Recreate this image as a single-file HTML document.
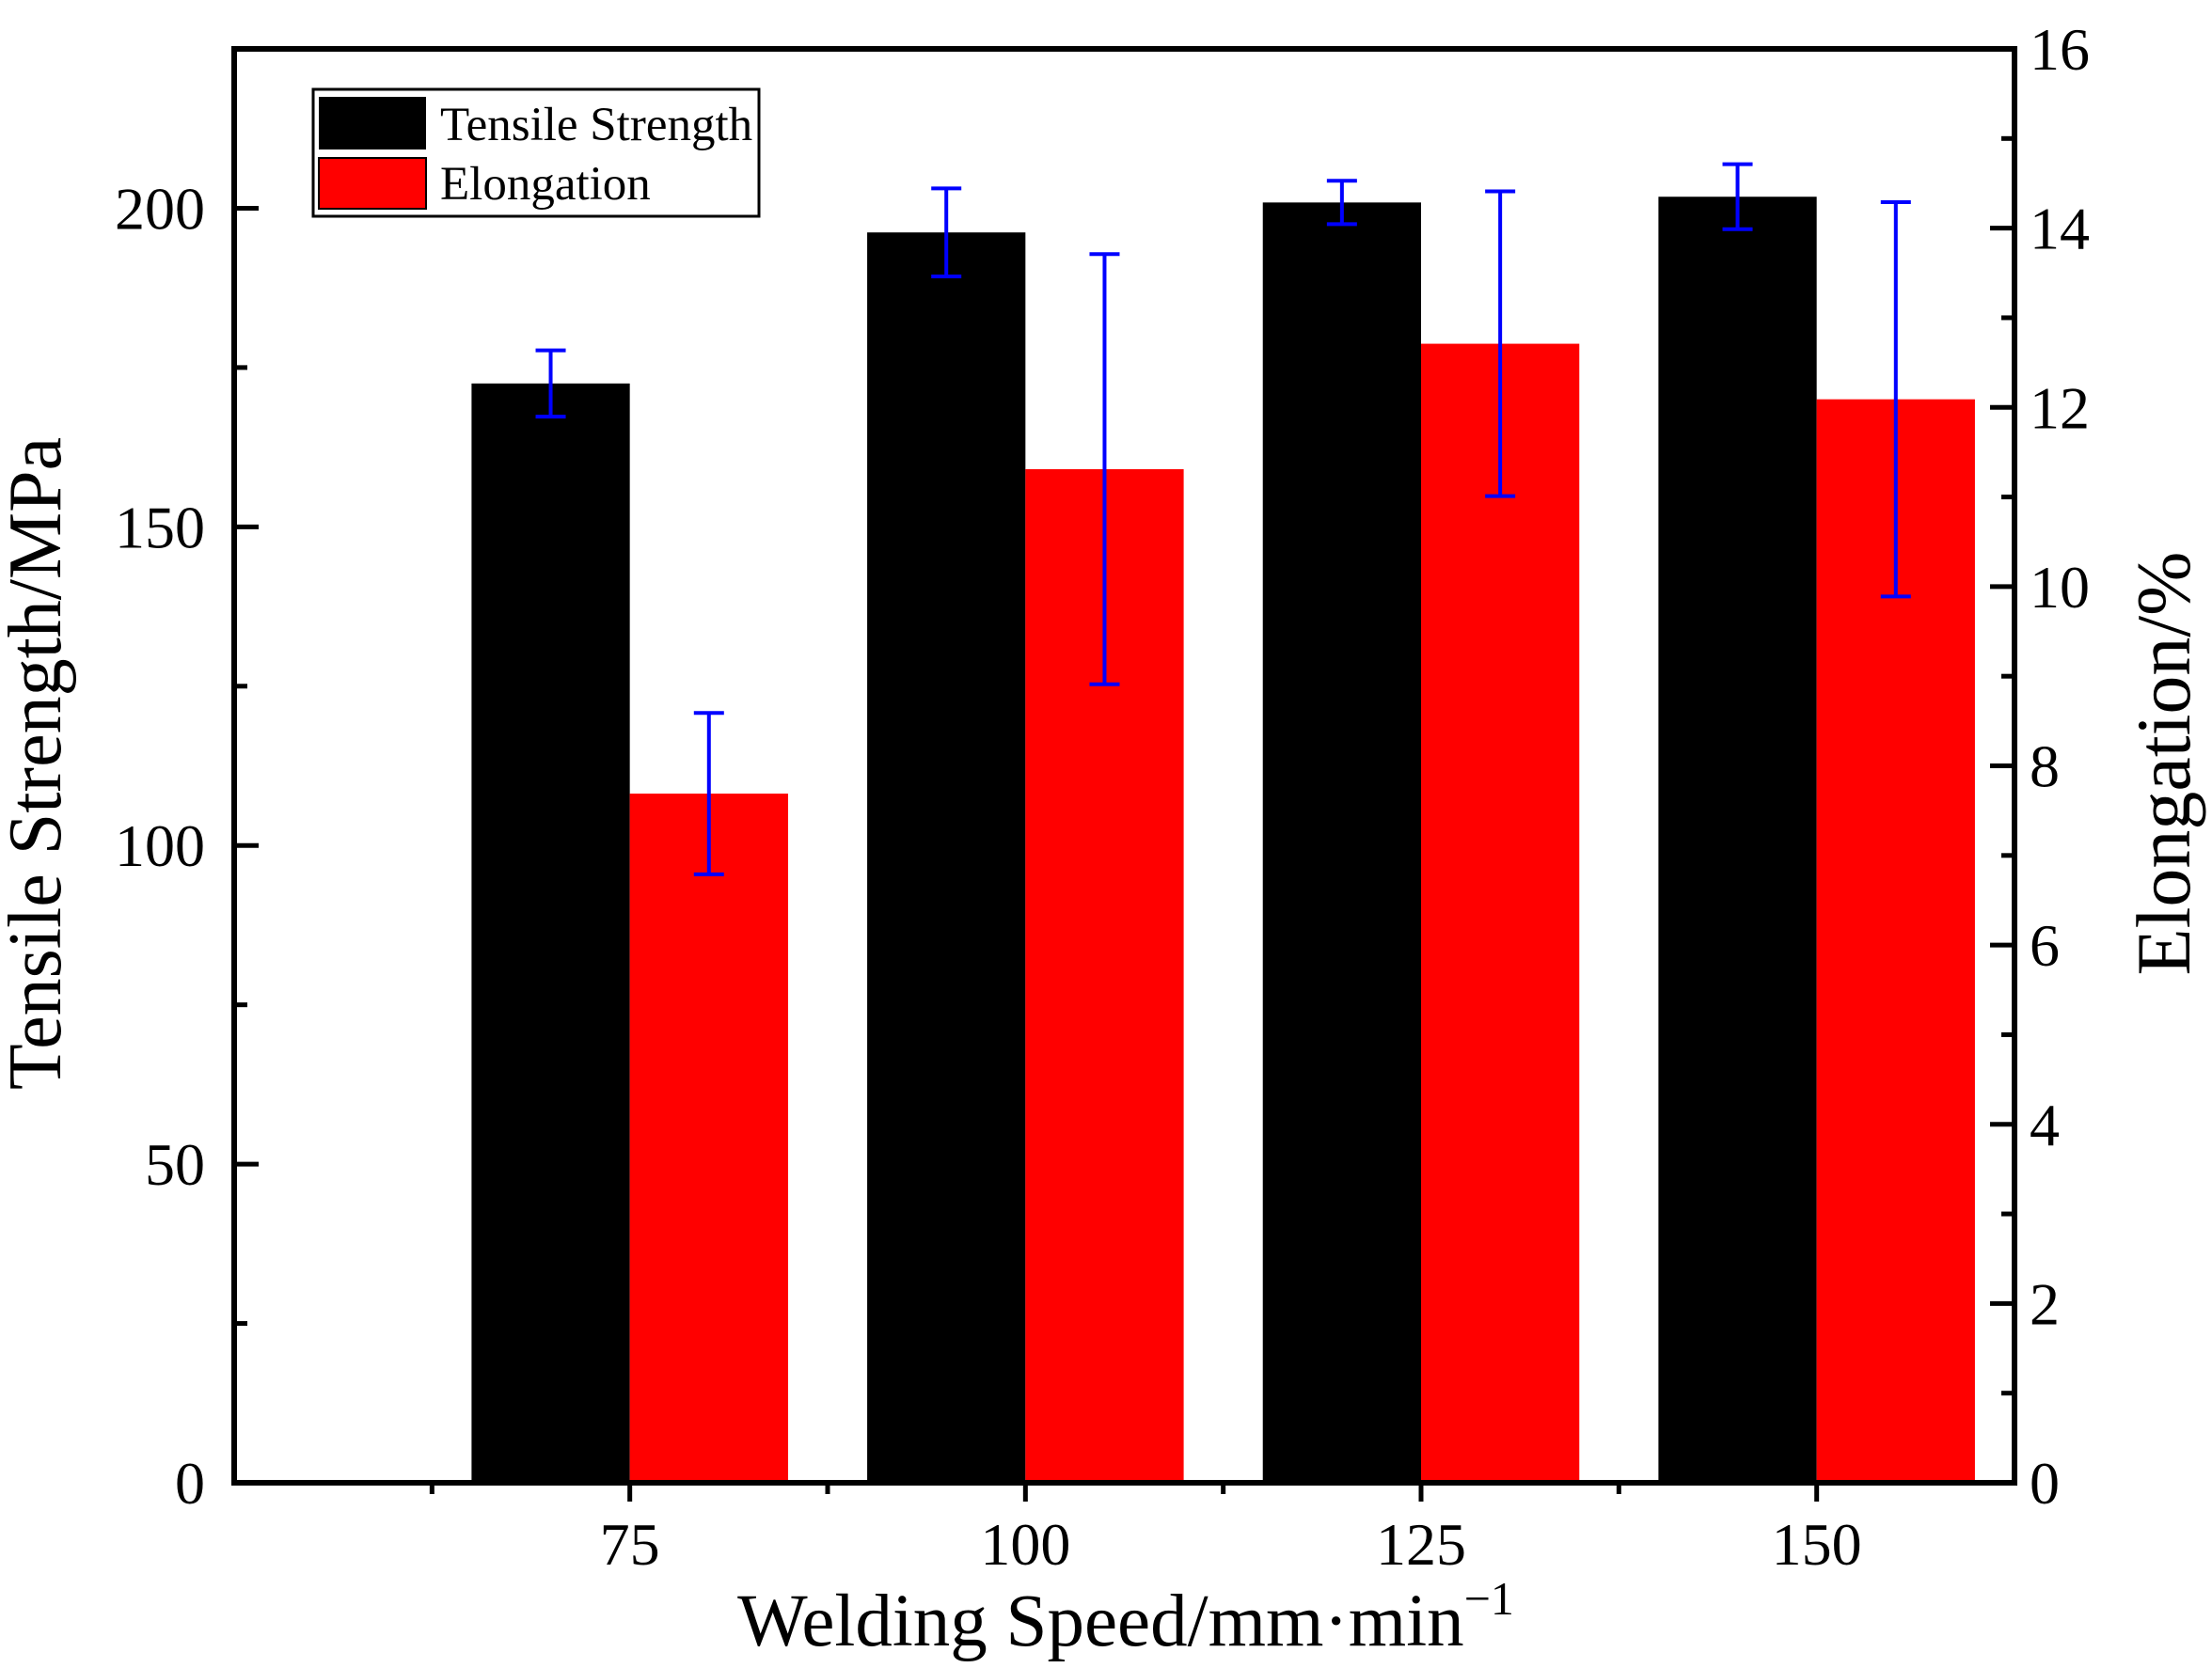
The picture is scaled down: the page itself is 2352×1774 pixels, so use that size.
<!DOCTYPE html>
<html><head><meta charset="utf-8"><style>
html,body{margin:0;padding:0;background:#fff}
svg{display:block;font-family:"Liberation Serif",serif}
</style></head><body>
<svg id="chart" width="2352" height="1774" viewBox="0 0 2352 1774"></svg>
<script>
const categories = [75, 100, 125, 150];
const tensileValues = [172.5, 196.2, 200.9, 201.8];
const tensileErrors = [5.2, 6.9, 3.4, 5.1];
const elongValues = [7.69, 11.31, 12.71, 12.09];
const elongErrors = [0.9, 2.4, 1.7, 2.2];
const leftTicks = [0, 50, 100, 150, 200];
const rightTicks = [0, 2, 4, 6, 8, 10, 12, 14, 16];

const NS = "http://www.w3.org/2000/svg";
const svg = document.getElementById('chart');
const L = 249, R = 2142, T = 52, B = 1577;
const xS = v => L + (v - 50) / (162.5 - 50) * (R - L);
const yL = v => B - v / 225 * (B - T);
const yR = v => B - v / 16 * (B - T);
const barW = xS(60) - xS(50);

function mk(tag, attrs, parent) {
  const e = document.createElementNS(NS, tag);
  for (const k in attrs) e.setAttribute(k, attrs[k]);
  (parent || svg).appendChild(e);
  return e;
}

const bars = mk('g', {});


categories.forEach((c, i) => {
  const cx = xS(c);
  const b1 = mk('rect', {x: cx - barW, y: yL(tensileValues[i]), width: barW, height: B - yL(tensileValues[i]), fill: '#000'}, bars);
  
  
  const b2 = mk('rect', {x: cx, y: yR(elongValues[i]), width: barW, height: B - yR(elongValues[i]), fill: '#f00'}, bars);
  
  
  const ex1 = cx - barW / 2, ex2 = cx + barW / 2;
  [[ex1, yL(tensileValues[i] + tensileErrors[i]), yL(tensileValues[i] - tensileErrors[i]), 'tensile'],
   [ex2, yR(elongValues[i] + elongErrors[i]), yR(elongValues[i] - elongErrors[i]), 'elongation']].forEach(([x, y1, y2, n]) => {
    const g = mk('g', {stroke: '#0000ff', 'stroke-width': 4}, bars);
    
    
    mk('line', {x1: x, x2: x, y1: y1, y2: y2}, g);
    mk('line', {x1: x - 16, x2: x + 16, y1: y1, y2: y1}, g);
    mk('line', {x1: x - 16, x2: x + 16, y1: y2, y2: y2}, g);
  });
});

const frame = mk('rect', {x: L, y: T, width: R - L, height: B - T, fill: 'none', stroke: '#000', 'stroke-width': 6});



const axG = mk('g', {stroke: '#000', 'stroke-width': 5});


const txt = mk('g', {'font-size': 64, fill: '#000'});



leftTicks.forEach(v => {
  const y = yL(v);
  mk('line', {x1: L, x2: L + 26, y1: y, y2: y}, axG);
  const ym = yL(v + 25);
  if (v + 25 < 225) mk('line', {x1: L, x2: L + 14, y1: ym, y2: ym}, axG);
  const t = mk('text', {x: 218, y: y + 22, 'text-anchor': 'end'}, txt);
  t.textContent = v;
});
rightTicks.forEach(v => {
  const y = yR(v);
  mk('line', {x1: R, x2: R - 26, y1: y, y2: y}, axG);
  if (v < 16) { const ym = yR(v + 1); mk('line', {x1: R, x2: R - 14, y1: ym, y2: ym}, axG); }
  const t = mk('text', {x: 2158, y: y + 22, 'text-anchor': 'start'}, txt);
  t.textContent = v;
});
categories.forEach(c => {
  const x = xS(c);
  mk('line', {x1: x, x2: x, y1: B, y2: B + 20}, axG);
  mk('line', {x1: xS(c - 12.5), x2: xS(c - 12.5), y1: B, y2: B + 12}, axG);
  const t = mk('text', {x: x, y: 1664, 'text-anchor': 'middle'}, txt);
  t.textContent = c;
});
</script>
<svg width="2352" height="1774" style="position:absolute;left:0;top:0">
  <g font-family="Liberation Serif, serif" fill="#000">
    <text x="1197" y="1750" text-anchor="middle" font-size="79">Welding Speed/mm·min<tspan font-size="50" dy="-33">−1</tspan></text>
    <text transform="translate(64,812) rotate(-90)" text-anchor="middle" font-size="80">Tensile Strength/MPa</text>
    <text transform="translate(2328,812) rotate(-90)" text-anchor="middle" font-size="82">Elongation/%</text>
  </g>
  <g>
    <rect x="333" y="95" width="474" height="135" fill="#fff" stroke="#000" stroke-width="3"/>
    <rect x="339" y="103" width="114" height="56" fill="#000"/>
    <rect x="339" y="168" width="114" height="54" fill="#f00" stroke="#000" stroke-width="2"/>
    <text x="468" y="149" font-family="Liberation Serif, serif" font-size="51">Tensile Strength</text>
    <text x="468" y="212" font-family="Liberation Serif, serif" font-size="51">Elongation</text>
  </g>
</svg>
</body></html>
